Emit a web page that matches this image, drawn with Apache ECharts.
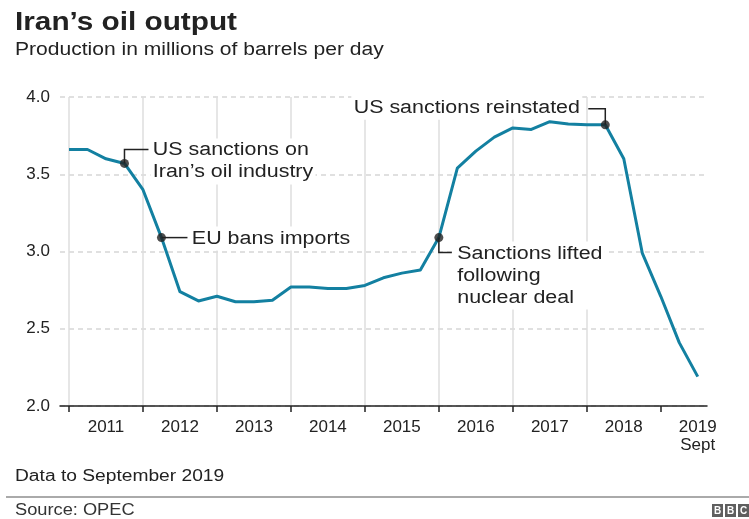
<!DOCTYPE html>
<html>
<head>
<meta charset="utf-8">
<script src="https://cdn.jsdelivr.net/npm/echarts@6/dist/echarts.min.js"></script>
<style>
html,body{margin:0;padding:0;background:#fff;}
#c{width:749px;height:519px;}
</style>
</head>
<body>
<div id="c"></div>
<script>
// ---- Data ----
const quarters = [
  '2011 Q1','2011 Q2','2011 Q3','2011 Q4',
  '2012 Q1','2012 Q2','2012 Q3','2012 Q4',
  '2013 Q1','2013 Q2','2013 Q3','2013 Q4',
  '2014 Q1','2014 Q2','2014 Q3','2014 Q4',
  '2015 Q1','2015 Q2','2015 Q3','2015 Q4',
  '2016 Q1','2016 Q2','2016 Q3','2016 Q4',
  '2017 Q1','2017 Q2','2017 Q3','2017 Q4',
  '2018 Q1','2018 Q2','2018 Q3','2018 Q4',
  '2019 Q1','2019 Q2','2019 Q3'
];
const output = [
  3.66, 3.66, 3.60, 3.57,
  3.40, 3.09, 2.74, 2.68,
  2.71, 2.675, 2.675, 2.685,
  2.77, 2.77, 2.76, 2.76,
  2.78, 2.83, 2.86, 2.88,
  3.09, 3.54, 3.65, 3.74,
  3.80, 3.79, 3.84, 3.825,
  3.82, 3.82, 3.60, 2.99,
  2.71, 2.41, 2.19
];
const yearLabels = ['2011','2012','2013','2014','2015','2016','2017','2018','2019\nSept'];
const yearStartTicks = [0, 4, 8, 12, 16, 20, 24, 28, 32];
const yTickValues = [2.0, 2.5, 3.0, 3.5, 4.0];
const annotationIdx = [3, 5, 20, 29];
const annotationText = [
  'US sanctions on\nIran\u2019s oil industry',
  'EU bans imports',
  'Sanctions lifted\nfollowing\nnuclear deal',
  'US sanctions reinstated'
];
const titleText = 'Iran\u2019s oil output';
const subtitleText = 'Production in millions of barrels per day';
const noteText = 'Data to September 2019';
const sourceText = 'Source: OPEC';

// ---- Chart ----
const FONT = '"Liberation Sans", Arial, Helvetica, sans-serif';
const chart = echarts.init(document.getElementById('c'), null, {renderer: 'canvas'});

const option = {
  backgroundColor: '#ffffff',
  animation: false,
  grid: [
    {left: 60, right: 42, top: 97, bottom: 113},
    {left: 69, right: 42, top: 97, bottom: 113}
  ],
  xAxis: [
    {
      gridIndex: 0, type: 'value', min: 0, max: 1, position: 'bottom',
      axisLine: {show: true, lineStyle: {color: '#222', width: 1.5}},
      axisTick: {show: false}, axisLabel: {show: false}, splitLine: {show: false}
    },
    {
      gridIndex: 1, type: 'value', min: 0, max: quarters.length - 0.5, interval: 4, position: 'bottom',
      axisLine: {show: false},
      axisTick: {show: true, length: 6, customValues: yearStartTicks, lineStyle: {color: '#222', width: 1.5}},
      axisLabel: {show: false},
      splitLine: {show: true, showMaxLine: false, lineStyle: {color: '#dedede', width: 1.5, type: 'solid'}}
    },
    {
      gridIndex: 1, type: 'value', min: 0, max: quarters.length - 0.5, interval: 2, position: 'bottom',
      axisLine: {show: false}, axisTick: {show: false}, splitLine: {show: false},
      axisLabel: {
        show: true, margin: 12, color: '#222', fontSize: 17, fontFamily: FONT, lineHeight: 18,
        showMinLabel: true, showMaxLabel: true,
        formatter: function (v) {
          if (Math.abs(v % 4 - 2) < 1e-6) {
            const k = Math.round((v - 2) / 4);
            return yearLabels[k] || '';
          }
          return '';
        }
      }
    }
  ],
  yAxis: [
    {
      gridIndex: 0, type: 'value', min: yTickValues[0], max: yTickValues[yTickValues.length - 1], interval: 0.5,
      axisLine: {show: false}, axisTick: {show: false},
      axisLabel: {margin: 10, color: '#222', fontSize: 17, fontFamily: FONT, formatter: v => v.toFixed(1)},
      splitLine: {show: true, lineStyle: {color: '#d6d6d6', width: 1.5, type: [5, 4]}}
    },
    {
      gridIndex: 1, type: 'value', min: yTickValues[0], max: yTickValues[yTickValues.length - 1], show: false,
      splitLine: {show: false}
    }
  ],
  series: [
    {
      type: 'line', xAxisIndex: 1, yAxisIndex: 1,
      data: output.map((v, i) => [i, v]),
      symbol: 'none', smooth: false,
      lineStyle: {color: '#1380A1', width: 3, join: 'round'},
      z: 3
    },
    {
      type: 'scatter', xAxisIndex: 1, yAxisIndex: 1,
      data: annotationIdx.map(i => [i, output[i]]),
      symbol: 'circle', symbolSize: 9,
      itemStyle: {color: '#222'},
      z: 6
    }
  ]
};
chart.setOption(option);

// ---- Annotations and texts (positioned from data via the chart's scales) ----
const layout = [
  {leader: [[0, 0], [0, -14], [24, -14]], tx: 26, ty: -25, align: 'left', va: 'top'},
  {leader: [[0, 0], [26, 0]], tx: 28, ty: 1, align: 'left', va: 'middle'},
  {leader: [[0, 0], [0, 15], [13, 15]], tx: 16, ty: 4, align: 'left', va: 'top'},
  {leader: [[0, 0], [0, -16], [-17, -16]], tx: -23, ty: -17, align: 'right', va: 'middle'}
];

function txt(x, y, text, o) {
  o = o || {};
  return {
    type: 'text', x: x, y: y, z: o.z || 10, scaleX: o.scaleX || 1,
    style: {
      text: text,
      fontSize: o.fontSize || 16,
      fontWeight: o.fontWeight || 'normal',
      fontFamily: FONT,
      fill: o.fill || '#222',
      lineHeight: o.lineHeight,
      textAlign: o.align || 'left', align: o.align || 'left',
      textVerticalAlign: o.va || 'middle', verticalAlign: o.va || 'middle',
      backgroundColor: o.bg, padding: o.padding
    }
  };
}

const els = [];
annotationIdx.forEach((q, k) => {
  const p = chart.convertToPixel({seriesIndex: 0}, [q, output[q]]);
  const L = layout[k];
  els.push(txt(p[0] + L.tx, p[1] + L.ty, annotationText[k], {
    fontSize: 18, lineHeight: 22, scaleX: 1.19, align: L.align, va: L.va,
    bg: '#ffffff', padding: [1, 2], z: 1
  }));
  els.push({
    type: 'polyline', z: 5,
    shape: {points: L.leader.map(d => [p[0] + d[0], p[1] + d[1]])},
    style: {stroke: '#222', lineWidth: 1.5, fill: null}
  });
});

els.push(txt(15, 23, titleText, {fontSize: 25, fontWeight: 'bold', scaleX: 1.19}));
els.push(txt(15, 50, subtitleText, {fontSize: 18, scaleX: 1.17}));
els.push(txt(15, 477, noteText, {fontSize: 16, scaleX: 1.2}));
els.push({type: 'line', z: 10, shape: {x1: 6, y1: 497, x2: 749, y2: 497}, style: {stroke: '#aaaaaa', lineWidth: 2}});
els.push(txt(15, 511, sourceText, {fontSize: 16, scaleX: 1.14, fill: '#333'}));
['B', 'B', 'C'].forEach((ch, k) => {
  const x0 = 712 + k * 13;
  els.push({type: 'rect', z: 10, shape: {x: x0, y: 504, width: 11, height: 13}, style: {fill: '#5f5f5f'}});
  els.push(txt(x0 + 5.5, 511, ch, {fontSize: 10, fontWeight: 'bold', fill: '#ffffff', align: 'center'}));
});

chart.setOption({graphic: {elements: els}});
</script>
</body>
</html>
